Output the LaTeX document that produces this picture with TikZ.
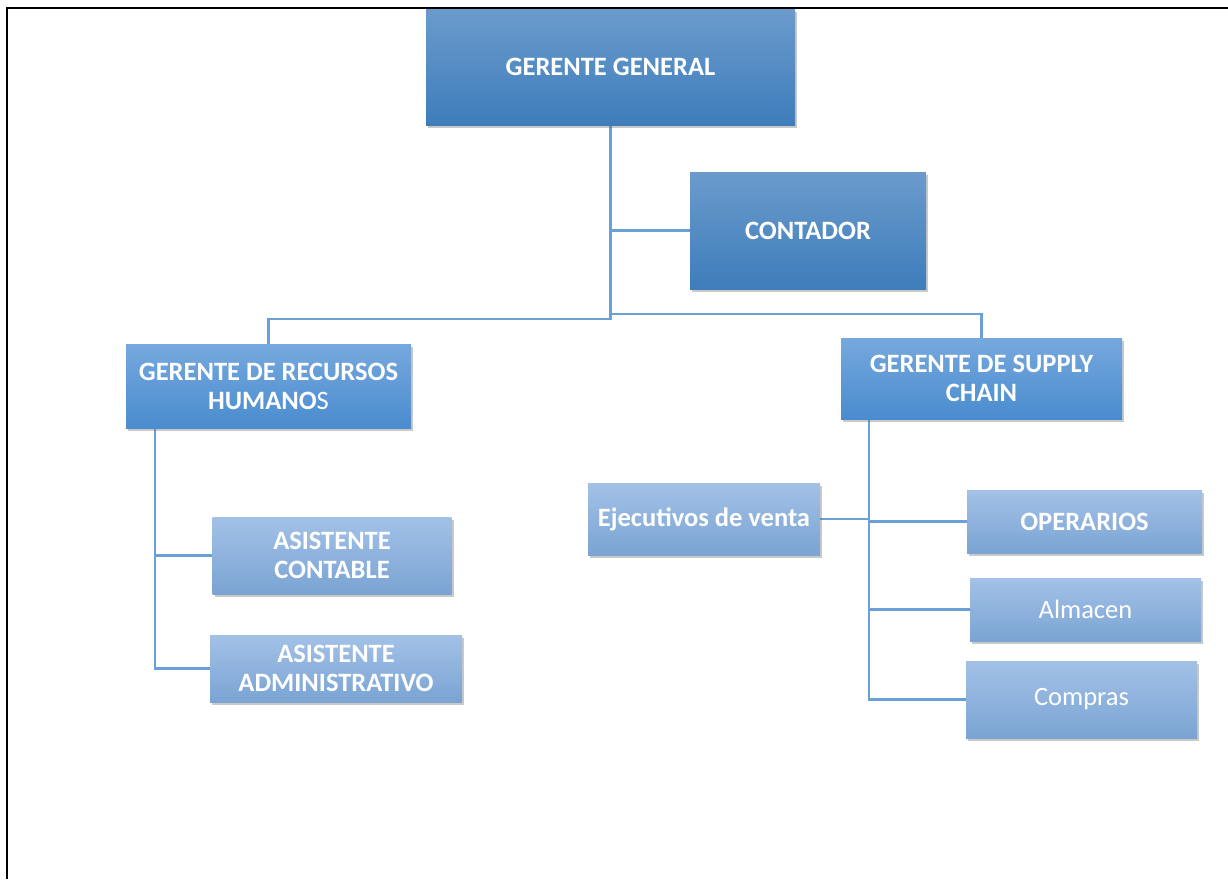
\documentclass[tikz,border=0pt]{standalone}
\usepackage{fontspec}
\setmainfont{Carlito}
\usetikzlibrary{shadows,backgrounds}
\definecolor{linkblue}{HTML}{6A9FD8}
\definecolor{topdarkA}{HTML}{6B9BCC}
\definecolor{topdarkB}{HTML}{3E7DBB}
\definecolor{midA}{HTML}{76A8DE}
\definecolor{midB}{HTML}{4A8CCE}
\definecolor{lowA}{HTML}{A3C1E7}
\definecolor{lowB}{HTML}{7AA4D3}
\tikzset{
  box/.style={rectangle, inner sep=0pt, align=center, text=white,
    font=\fontsize{26.5}{29}\selectfont\bfseries,
    drop shadow={shadow xshift=2pt, shadow yshift=-3pt, opacity=0.35, fill=black!60}},
  bigbox/.style={box, top color=topdarkA, bottom color=topdarkB},
  midbox/.style={box, top color=midA, bottom color=midB},
  lowbox/.style={box, top color=lowA, bottom color=lowB},
  plain/.style={font=\fontsize{26.5}{29}\selectfont\mdseries},
  conn/.style={draw=linkblue, line width=2.5pt},
  frame/.style={draw=black, line width=2pt}
}
\begin{document}
\begin{tikzpicture}[x=1pt, y=-1pt]
\useasboundingbox (0,0) rectangle (1228,879);

% boxes
\node[bigbox, minimum width=369pt, minimum height=116pt] (gg) at (610.5,67) {GERENTE GENERAL};
\node[bigbox, minimum width=236pt, minimum height=117pt] (cont) at (808,230.5) {CONTADOR};
\node[midbox, minimum width=285pt, minimum height=84pt] (hr) at (268.5,386) {GERENTE DE RECURSOS\\HUMANO{\mdseries S}};
\node[midbox, minimum width=281pt, minimum height=81pt] (sc) at (981.5,378.5) {GERENTE DE SUPPLY\\CHAIN};
\node[lowbox, minimum width=232pt, minimum height=72pt] (ejec) at (704,519) {Ejecutivos de venta};
\node[lowbox, minimum width=235pt, minimum height=63pt] (oper) at (1084.5,521.5) {OPERARIOS};
\node[lowbox, plain, minimum width=231pt, minimum height=63pt] (alm) at (1085.5,609.5) {Almacen};
\node[lowbox, plain, minimum width=231pt, minimum height=77pt] (comp) at (1081.5,699.5) {Compras};
\node[lowbox, minimum width=239pt, minimum height=77pt] (ac) at (332,555.5) {ASISTENTE\\CONTABLE};
\node[lowbox, minimum width=252pt, minimum height=67pt] (aa) at (336,668.5) {ASISTENTE\\ADMINISTRATIVO};

% branch points of the tree
\coordinate (split) at (610.5,319);
\coordinate (rbus) at (610.5,314);
\coordinate (hrv) at (155,428);
\coordinate (scv) at (869,419);

% page, frame and connectors behind the boxes
\begin{scope}[on background layer]
\fill[white] (0,0) rectangle (1228,879);
\draw[frame] (7,879) -- (7,8) -- (1228,8);
\draw[conn] (gg.south) -- (split) -| (hr.north);
\draw[conn] (rbus) -| (sc.north);
\draw[conn] (gg.south |- cont.west) -- (cont.west);
\draw[conn] (hrv) -- (hrv |- aa.west) -- (aa.west);
\draw[conn] (hrv |- ac.west) -- (ac.west);
\draw[conn] (scv) -- (scv |- comp.west) -- (comp.west);
\draw[conn] (ejec.east) -- (scv |- ejec.east);
\draw[conn] (scv |- oper.west) -- (oper.west);
\draw[conn] (scv |- alm.west) -- (alm.west);
\end{scope}
\end{tikzpicture}
\end{document}
